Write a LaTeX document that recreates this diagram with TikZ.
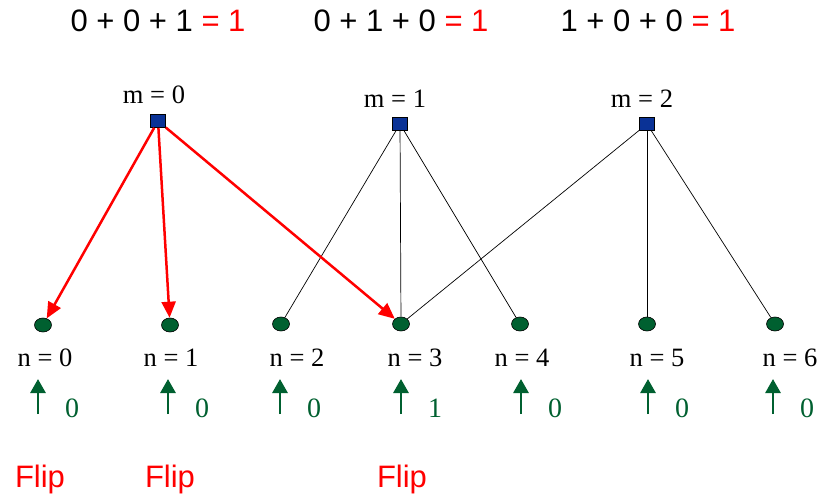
\documentclass[tikz,border=0pt]{standalone}
\usepackage{fontspec}
\setmainfont{Liberation Serif}
\newfontfamily\arialf{Liberation Sans}
\usetikzlibrary{arrows.meta,shapes.geometric}
\definecolor{dkgreen}{RGB}{0,96,48}
\definecolor{chkblue}{RGB}{10,50,150}
\begin{document}
\begin{tikzpicture}[x=1pt,y=-1pt,
  chk/.style={draw=black,fill=chkblue,minimum width=15pt,minimum height=13pt,inner sep=0pt,line width=0.6pt},
  var/.style={draw=black,fill=dkgreen,ellipse,minimum width=17pt,minimum height=14pt,inner sep=0pt,line width=0.6pt},
  lbl/.style={font=\fontsize{26.5}{30}\selectfont,inner sep=0pt},
  bit/.style={font=\fontsize{28}{32}\selectfont,text=dkgreen,inner sep=0pt},
  eqn/.style={font=\arialf\fontsize{31}{36}\selectfont,inner sep=0pt},
  flip/.style={font=\arialf\fontsize{31}{36}\selectfont,text=red,inner sep=0pt},
  redarr/.style={draw=red,line width=2.5pt,-{Triangle[length=16pt,width=14pt]}},
  edge/.style={draw=black,line width=0.7pt},
  up/.style={draw=dkgreen,line width=2.8pt,-{Triangle[length=14pt,width=15pt]}}]
\useasboundingbox (0,0) rectangle (821,495);
% equations
\node[eqn] (e0) at (158,21) {0 + 0 + 1 \textcolor{red}{= 1}};
\node[eqn] (e1) at (401,21) {0 + 1 + 0 \textcolor{red}{= 1}};
\node[eqn] (e2) at (648,21) {1 + 0 + 0 \textcolor{red}{= 1}};
% check nodes
\node[chk] (m0) at (158,121) {};
\node[chk] (m1) at (400,124) {};
\node[chk] (m2) at (647,124) {};
\node[lbl] (lm0) at (154,95) {m = 0};
\node[lbl] (lm1) at (395,99) {m = 1};
\node[lbl] (lm2) at (642,99) {m = 2};
% variable nodes
\node[var] (n0) at (43,325) {};
\node[var] (n1) at (170,325) {};
\node[var] (n2) at (281,324) {};
\node[var] (n3) at (401,324) {};
\node[var] (n4) at (520,324) {};
\node[var] (n5) at (647,324) {};
\node[var] (n6) at (775,324) {};
\node[lbl] (ln0) at (45,358) {n = 0};
\node[lbl] (ln1) at (171,358) {n = 1};
\node[lbl] (ln2) at (297,358) {n = 2};
\node[lbl] (ln3) at (415,358) {n = 3};
\node[lbl] (ln4) at (522,358) {n = 4};
\node[lbl] (ln5) at (657,358) {n = 5};
\node[lbl] (ln6) at (790,358) {n = 6};
% edges
\draw[edge] (m1) -- (n2);
\draw[edge] (m1) -- (n3);
\draw[edge] (m1) -- (n4);
\draw[edge] (m2) -- (n3);
\draw[edge] (m2) -- (n5);
\draw[edge] (m2) -- (n6);
\draw[redarr] (m0) -- (n0);
\draw[redarr] (m0) -- (n1);
\draw[redarr] (m0) -- (n3);
% up arrows and bits
\foreach \i/\x/\b in {0/38/0,1/168/0,2/280/0,3/401/1,4/521/0,5/648/0,6/773/0}{
  \coordinate (ua\i) at (\x,414);
  \coordinate (ub\i) at (\x,379);
  \draw[up] (ua\i) -- (ub\i);
  \node[bit] (b\i) at (\x+34,408) {\b};
}
% flips
\node[flip] (f0) at (40,479) {Flip};
\node[flip] (f1) at (170,479) {Flip};
\node[flip] (f3) at (402,479) {Flip};
\end{tikzpicture}
\end{document}
